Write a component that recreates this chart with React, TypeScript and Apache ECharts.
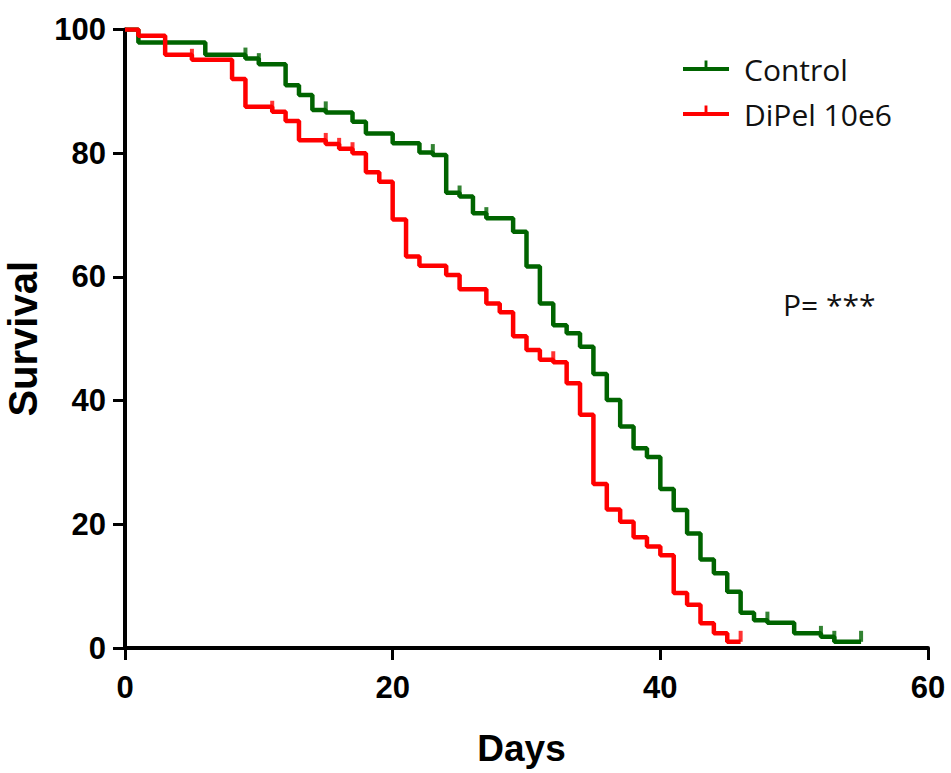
import React, { useEffect, useRef } from "react";
import * as echarts from "echarts";

// Kaplan-Meier steps: [day, survival after that day]
const controlSteps: [number, number][] = [
  [0, 100], [1, 97.9], [6, 95.9], [9, 95.3], [10, 94.4], [12, 91.0], [13, 89.4],
  [14, 87.0], [15, 86.6], [17, 85.1], [18, 83.2], [20, 81.6], [22, 80.1],
  [23, 79.7], [24, 73.6], [25, 73.0], [26, 70.3], [27, 69.5], [29, 67.3],
  [30, 61.7], [31, 55.7], [32, 52.2], [33, 50.9], [34, 48.7], [35, 44.3],
  [36, 40.1], [37, 35.8], [38, 32.3], [39, 30.9], [40, 25.7], [41, 22.3],
  [42, 18.5], [43, 14.3], [44, 12.1], [45, 9.1], [46, 5.7], [47, 4.5],
  [48, 4.1], [50, 2.4], [52, 1.8], [53, 1.0], [55, 1.0],
];
const controlCensored: [number, number][] = [
  [9, 95.3], [10, 94.4], [15, 86.6], [23, 79.7], [25, 73.0], [27, 69.5],
  [48, 4.1], [52, 1.8], [53, 1.0], [55, 1.0],
];

const dipelSteps: [number, number][] = [
  [0, 100], [1, 99.0], [3, 95.9], [5, 95.1], [8, 92.0], [9, 87.5], [11, 86.7],
  [12, 85.2], [13, 82.1], [15, 81.5], [16, 80.7], [17, 80.0], [18, 76.9],
  [19, 75.4], [20, 69.3], [21, 63.3], [22, 61.8], [24, 60.3], [25, 58.0],
  [27, 55.7], [28, 54.3], [29, 50.4], [30, 48.2], [31, 46.6], [32, 46.2],
  [33, 42.8], [34, 37.7], [35, 26.5], [36, 22.4], [37, 20.4], [38, 17.9],
  [39, 16.4], [40, 15.0], [41, 8.9], [42, 7.0], [43, 4.0], [44, 2.4],
  [45, 1.0], [46, 1.0],
];
const dipelCensored: [number, number][] = [
  [5, 95.1], [11, 86.7], [15, 81.5], [16, 80.7], [17, 80.0], [32, 46.2], [46, 1.0],
];

const seriesNames = ["Control", "DiPel 10e6"];
const xTicks = [0, 20, 40, 60];
const yTicks = [0, 20, 40, 60, 80, 100];

const GREEN = "#006400";
const RED = "#ff0000";
const BOLD_FONT = "'Liberation Sans', Arial, sans-serif";
const LEGEND_ICON =
  "path://M0,10 L48,10 L48,14 L0,14 Z M22.5,3 L25.5,3 L25.5,10 L22.5,10 Z M0,20.9 L0.1,20.9 L0.1,21 L0,21 Z";

export default function App() {
  const ref = useRef<HTMLDivElement>(null);

  useEffect(() => {
    if (!ref.current) return;
    const chart = echarts.init(ref.current, undefined, { renderer: "svg" });
    const tickStyle = { fontSize: 31, fontWeight: "bold" as const, fontFamily: BOLD_FONT, color: "#000" };
    chart.setOption({
      animation: false,
      backgroundColor: "#fff",
      grid: { left: 125, right: 23, top: 29.5, bottom: 125, containLabel: false, outerBoundsMode: "none" },
      legend: {
        orient: "vertical",
        left: 678,
        top: 49,
        itemGap: 15,
        itemWidth: 46,
        itemHeight: 18,
        data: seriesNames.map((n) => ({ name: n, icon: LEGEND_ICON })),
        textStyle: { fontSize: 30, fontFamily: "'Open Sans', sans-serif", color: "#111", padding: [0, 0, 0, 10] },
      },
      xAxis: {
        type: "value",
        min: xTicks[0],
        max: xTicks[xTicks.length - 1],
        interval: 20,
        name: "Days",
        nameLocation: "middle",
        nameGap: 82,
        nameTextStyle: { fontSize: 37, fontWeight: "bold", fontFamily: BOLD_FONT, color: "#000", padding: [0, 10, 0, 0] },
        axisLine: { lineStyle: { color: "#000", width: 4 } },
        axisTick: { length: 12, lineStyle: { width: 3, color: "#000" } },
        axisLabel: { ...tickStyle, margin: 24 },
        splitLine: { show: false },
      },
      yAxis: {
        type: "value",
        min: yTicks[0],
        max: yTicks[yTicks.length - 1],
        interval: 20,
        name: "Survival",
        nameLocation: "middle",
        nameGap: 74,
        nameTextStyle: { fontSize: 40, fontWeight: "bold", fontFamily: BOLD_FONT, color: "#000" },
        axisLine: { show: true, lineStyle: { color: "#000", width: 4 } },
        axisTick: { show: true, length: 12, lineStyle: { width: 3, color: "#000" } },
        axisLabel: { ...tickStyle, margin: 19 },
        splitLine: { show: false },
      },
      graphic: [
        {
          type: "text",
          left: 783,
          top: 289,
          style: { text: "P= ***", fontSize: 30, fontFamily: "'Open Sans', sans-serif", fill: "#111" },
        },
      ],
      series: [
        {
          name: seriesNames[0],
          type: "line",
          step: "end",
          data: controlSteps,
          showSymbol: false,
          color: GREEN,
          lineStyle: { color: GREEN, width: 4.5 },
          z: 2,
        },
        {
          name: seriesNames[1],
          type: "line",
          step: "end",
          data: dipelSteps,
          showSymbol: false,
          color: RED,
          lineStyle: { color: RED, width: 4.5 },
          z: 3,
        },
        {
          name: "Control censored",
          type: "scatter",
          data: controlCensored,
          symbol: "rect",
          symbolSize: [4, 11],
          symbolOffset: [0, -5.5],
          itemStyle: { color: GREEN },
          z: 4,
        },
        {
          name: "DiPel censored",
          type: "scatter",
          data: dipelCensored,
          symbol: "rect",
          symbolSize: [4, 11],
          symbolOffset: [0, -5.5],
          itemStyle: { color: RED },
          z: 5,
        },
      ],
    });
    return () => chart.dispose();
  }, []);

  return <div ref={ref} style={{ width: 951, height: 773, position: "absolute", left: 0, top: 0 }} />;
}
